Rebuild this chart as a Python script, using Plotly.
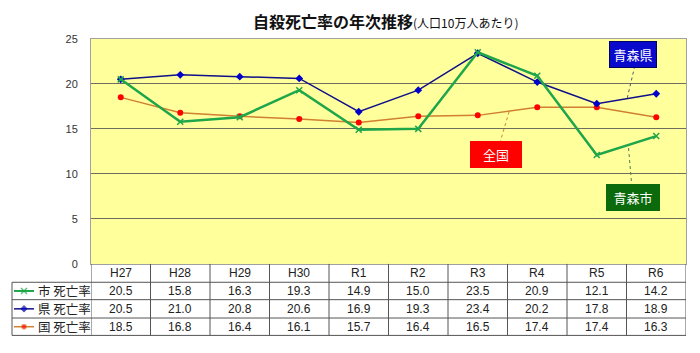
import plotly.graph_objects as go
import numpy as np

categories = ["H27", "H28", "H29", "H30", "R1", "R2", "R3", "R4", "R5", "R6"]
city_rate = [20.5, 15.8, 16.3, 19.3, 14.9, 15.0, 23.5, 20.9, 12.1, 14.2]
pref_rate = [20.5, 21.0, 20.8, 20.6, 16.9, 19.3, 23.4, 20.2, 17.8, 18.9]
nation_rate = [18.5, 16.8, 16.4, 16.1, 15.7, 16.4, 16.5, 17.4, 17.4, 16.3]
row_labels = ["市 死亡率", "県 死亡率", "国 死亡率"]
y_ticks = [0, 5, 10, 15, 20, 25]

W, H = 700, 353
PL, PR, PT, PB = 91, 686, 34, 267  # plot area in px

def py(p):  # pixel y -> paper
    return (H - p) / H

def px(p):
    return p / W

GREEN = "#1fa64a"
BLUE_LINE = "#10108a"
BLUE_MK = "#0000cc"
ORANGE = "#d08030"
RED = "#ff0000"

xi = np.arange(len(categories))

fig = go.Figure()

fig.add_trace(go.Scatter(x=categories, y=nation_rate, mode="lines+markers",
                         line=dict(color=ORANGE, width=1.5),
                         marker=dict(color=RED, size=6, symbol="circle"),
                         cliponaxis=False, showlegend=False))
fig.add_trace(go.Scatter(x=categories, y=pref_rate, mode="lines+markers",
                         line=dict(color=BLUE_LINE, width=1.5),
                         marker=dict(color=BLUE_MK, size=6, symbol="diamond"),
                         cliponaxis=False, showlegend=False))
fig.add_trace(go.Scatter(x=categories, y=city_rate, mode="lines+markers",
                         line=dict(color=GREEN, width=2.5),
                         marker=dict(color=GREEN, size=6, symbol="x-thin",
                                     line=dict(color=GREEN, width=1.5)),
                         cliponaxis=False, showlegend=False))

# legend samples in table row labels (pixel overlay subplot)
row_centers = [295, 313.5, 332]
sample_styles = [
    (GREEN, 2, dict(color=GREEN, size=[0, 6, 0], symbol="x-thin", line=dict(color=GREEN, width=1.5))),
    (BLUE_LINE, 1.5, dict(color=BLUE_MK, size=[0, 5, 0], symbol="diamond")),
    (ORANGE, 1.5, dict(color=RED, size=[0, 5, 0], symbol="circle")),
]
for (col, w, mk), yc in zip(sample_styles, row_centers):
    fig.add_trace(go.Scatter(x=[14, 24, 34], y=[yc, yc, yc], mode="lines+markers",
                             line=dict(color=col, width=w), marker=mk,
                             xaxis="x2", yaxis="y2", showlegend=False,
                             hoverinfo="skip"))

fig.update_layout(
    width=W, height=H,
    margin=dict(l=0, r=0, t=0, b=0),
    paper_bgcolor="white",
    plot_bgcolor="rgba(0,0,0,0)",
    xaxis=dict(domain=[px(PL), px(PR)], range=[-0.5, 9.5], type="category",
               categoryorder="array", categoryarray=categories,
               showticklabels=False, showgrid=False, zeroline=False,
               showline=True, linecolor="#a0a0a0", linewidth=1, mirror=True,
               ticks=""),
    yaxis=dict(domain=[py(PB), py(PT)], range=[0, 25], tickvals=y_ticks,
               showgrid=True, gridcolor="#6f6f60", gridwidth=1,
               zeroline=False, showline=True, linecolor="#a0a0a0", linewidth=1,
               mirror=True, ticks="", ticklabelstandoff=10,
               tickfont=dict(family="Liberation Sans, Arial", size=11, color="#333333")),
    xaxis2=dict(domain=[0, 1], range=[0, W], visible=False, anchor="y2", fixedrange=True),
    yaxis2=dict(domain=[0, 1], range=[H, 0], visible=False, anchor="x2", fixedrange=True),
    font=dict(family="Noto Sans CJK JP, Liberation Sans", color="#222222"),
)

shapes = []
# yellow plot background
shapes.append(dict(type="rect", xref="x domain", yref="y domain", x0=0, x1=1, y0=0, y1=1,
                   fillcolor="#ffff9c", line=dict(width=0), layer="below"))

TL = dict(color="#555555", width=1)
# table horizontal lines
for yline in [286, 304, 323, 341]:
    shapes.append(dict(type="line", xref="paper", yref="paper", x0=px(12), x1=px(PR),
                       y0=py(yline), y1=py(yline), line=TL))
# table vertical lines at category boundaries
for k in range(len(categories) + 1):
    shapes.append(dict(type="line", xref="x", yref="paper", x0=k - 0.5, x1=k - 0.5,
                       y0=py(PB), y1=py(341), line=TL))
shapes.append(dict(type="line", xref="paper", yref="paper", x0=px(12), x1=px(12),
                   y0=py(286), y1=py(341), line=TL))

# leader lines
def interp(series, x):
    return float(np.interp(x, xi, series))

leaders = [
    (8.64, 22.0, 8.51, interp(pref_rate, 8.51), "#555577"),
    (6.37, 13.4, 6.53, interp(nation_rate, 6.53), ORANGE),
    (8.59, 8.55, 8.53, interp(city_rate, 8.53), "#557755"),
]
for x0, y0, x1, y1, c in leaders:
    shapes.append(dict(type="line", xref="x", yref="y", x0=x0, y0=y0, x1=x1, y1=y1,
                       line=dict(color=c, width=1, dash="dot")))

fig.update_layout(shapes=shapes)

ann = []
# title
ann.append(dict(xref="paper", yref="paper", x=px(385), y=py(16), showarrow=False,
                xanchor="center", yanchor="middle",
                text="<b>自殺死亡率の年次推移</b><span style='font-size:12px'>(人口10万人あたり)</span>",
                font=dict(size=16, color="#111111", family="Noto Sans CJK JP")))

cell_font = dict(family="Liberation Sans, Arial", size=12, color="#222222")
# header row
for c in categories:
    ann.append(dict(xref="x", yref="paper", x=c, y=py(276.5), showarrow=False, text=c,
                    xanchor="center", yanchor="middle", font=cell_font))
# data rows
for series, yc in zip([city_rate, pref_rate, nation_rate], row_centers):
    for c, v in zip(categories, series):
        ann.append(dict(xref="x", yref="paper", x=c, y=py(yc), showarrow=False,
                        text=f"{v:.1f}", xanchor="center", yanchor="middle",
                        font=cell_font))
# row labels
for lab, yc in zip(row_labels, row_centers):
    ann.append(dict(xref="paper", yref="paper", x=px(36), y=py(yc), xanchor="left",
                    yanchor="middle", showarrow=False, text=lab,
                    font=dict(family="Noto Sans CJK JP", size=12.5, color="#222222")))

# callout boxes
boxes = [
    ("青森県", 8.61, 23.28, "#0a0acd", "#000066", 40),
    ("全国", 6.31, 12.18, "#ff0000", "#ff0000", 44),
    ("青森市", 8.61, 7.35, "#0b6a0b", "#0b6a0b", 46),
]
for t, bx, by, bg, bc, w in boxes:
    ann.append(dict(xref="x", yref="y", x=bx, y=by, showarrow=False, text=t,
                    xanchor="center", yanchor="middle",
                    bgcolor=bg, bordercolor=bc, borderwidth=1, borderpad=3, width=w,
                    font=dict(family="Noto Sans CJK JP", size=13, color="white")))

fig.update_layout(annotations=ann)

fig.write_html("out.html")
